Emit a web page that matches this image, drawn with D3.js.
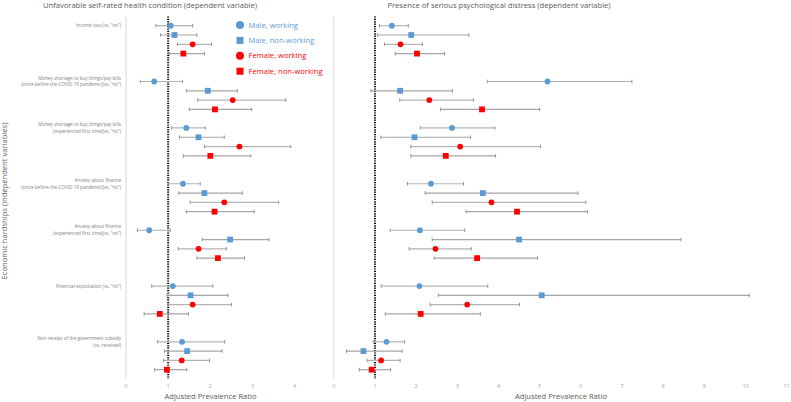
<!DOCTYPE html>
<html>
<head>
<script src="https://cdn.jsdelivr.net/npm/d3@7"></script>
<style>
  body { margin: 0; background: #fff; }
  text { font-family: "Open Sans", "Noto Sans", sans-serif; }
</style>
</head>
<body>
<div id="chart"></div>
<script>
// hardship categories, each has 4 rows (male working, male non-working, female working, female non-working)
var hardships = [
  ["Income loss (vs. \u201cno\u201d)"],
  ["Money shortage to buy things/pay bills", "(since before the COVID-19 pandemic)(vs. \u201cno\u201d)"],
  ["Money shortage to buy things/pay bills", "(experienced first time)(vs. \u201cno\u201d)"],
  ["Anxiety about finance", "(since before the COVID-19 pandemic)(vs. \u201cno\u201d)"],
  ["Anxiety about finance", "(experienced first time)(vs. \u201cno\u201d)"],
  ["Financial exploitation (vs. \u201cno\u201d)"],
  ["Non-receipt of the government subsidy", "(vs. received)"]
];
// first row slot of each category (blank slots between groups)
var groupSlot = [0, 6, 11, 17, 22, 28, 34];
var seriesNames = ["Male, working", "Male, non-working", "Female, working", "Female, non-working"];

// left panel: unfavorable self-rated health   [estimate, lower, upper]
var healthMW  = [[1.06,0.71,1.58],[0.67,0.34,1.34],[1.43,1.08,1.88],[1.35,1.01,1.76],[0.55,0.27,1.05],[1.11,0.61,2.06],[1.33,0.75,2.34]];
var healthMNW = [[1.15,0.82,1.68],[1.94,1.43,2.64],[1.72,1.27,2.33],[1.86,1.25,2.76],[2.47,1.81,3.39],[1.53,0.97,2.42],[1.45,0.91,2.28]];
var healthFW  = [[1.58,1.22,2.03],[2.53,1.70,3.79],[2.69,1.86,3.91],[2.33,1.52,3.62],[1.72,1.24,2.38],[1.58,1.00,2.50],[1.32,0.89,1.98]];
var healthFNW = [[1.36,1.03,1.86],[2.11,1.50,2.98],[2.00,1.36,2.96],[2.10,1.43,3.04],[2.18,1.68,2.81],[0.80,0.43,1.48],[0.97,0.68,1.44]];

// right panel: serious psychological distress
var distMW  = [[1.41,1.11,1.81],[5.19,3.73,7.24],[2.87,2.10,3.91],[2.36,1.79,3.15],[2.09,1.37,3.18],[2.08,1.15,3.74],[1.28,0.96,1.72]];
var distMNW = [[1.88,1.06,3.28],[1.61,0.90,2.88],[1.96,1.14,3.32],[3.62,2.22,5.93],[4.50,2.39,8.43],[5.05,2.54,10.09],[0.72,0.31,1.66]];
var distFW  = [[1.62,1.23,2.15],[2.32,1.60,3.39],[3.07,1.87,5.02],[3.83,2.39,6.12],[2.47,1.83,3.34],[3.24,2.34,4.51],[1.15,0.81,1.61]];
var distFNW = [[2.02,1.49,2.69],[3.60,2.59,5.00],[2.72,1.87,3.93],[4.45,3.21,6.16],[3.48,2.44,4.95],[2.11,1.25,3.56],[0.92,0.62,1.38]];

var leftTicks = [0, 1, 2, 3, 4];
var rightTicks = [0, 1, 2, 3, 4, 5, 6, 7, 8, 9, 10, 11];

var W = 791, H = 402;
var blue = "#5b9bd5", red = "#ff0000";
var colors = [blue, blue, red, red];
var shapes = ["circle", "square", "circle", "square"];

var svg = d3.select("#chart").append("svg")
  .attr("width", W).attr("height", H);

var y = d3.scaleLinear().domain([-1, 38]).range([16.4, 379]);
var xL = d3.scaleLinear().domain([0, 4.92]).range([126, 333.5]);
var xR = d3.scaleLinear().domain([0, 11]).range([333.8, 786.7]);

function rows(series) {
  var out = [];
  series.forEach(function(s, si) {
    s.forEach(function(d, gi) {
      out.push({ g: gi, s: si, est: d[0], lo: d[1], hi: d[2], slot: groupSlot[gi] + si });
    });
  });
  return out;
}

function panel(x, series, ticks, title) {
  var g = svg.append("g");
  // axis line at 0
  g.append("line")
    .attr("x1", x(0)).attr("x2", x(0))
    .attr("y1", y(-1)).attr("y2", y(38))
    .attr("stroke", "#d9d9d9").attr("stroke-width", 1);

  // tick labels
  g.selectAll("text.tick").data(ticks).enter().append("text")
    .attr("class", "tick")
    .attr("x", function(d) { return x(d); })
    .attr("y", 388)
    .attr("text-anchor", "middle")
    .attr("font-size", 5.5)
    .attr("fill", "#a6a6a6")
    .text(function(d) { return d; });

  // reference line at 1
  g.append("line")
    .attr("x1", x(1)).attr("x2", x(1))
    .attr("y1", y(-1)).attr("y2", y(38))
    .attr("stroke", "#000").attr("stroke-width", 2)
    .attr("stroke-dasharray", "1.2,1.2");

  var data = rows(series);
  var bars = g.selectAll("g.bar").data(data).enter().append("g").attr("class", "bar");
  bars.append("line")
    .attr("x1", function(d) { return x(d.lo); })
    .attr("x2", function(d) { return x(d.hi); })
    .attr("y1", function(d) { return y(d.slot); })
    .attr("y2", function(d) { return y(d.slot); })
    .attr("stroke", function(d) { return d.s % 2 ? "#a6a6a6" : "#b3b3b3"; })
    .attr("stroke-width", 1.2);
  ["lo", "hi"].forEach(function(k) {
    bars.append("line")
      .attr("x1", function(d) { return x(d[k]); })
      .attr("x2", function(d) { return x(d[k]); })
      .attr("y1", function(d) { return y(d.slot) - 1.8; })
      .attr("y2", function(d) { return y(d.slot) + 1.8; })
      .attr("stroke", "#7f7f7f").attr("stroke-width", 0.8);
  });
  bars.each(function(d) {
    var el = d3.select(this);
    if (shapes[d.s] === "circle") {
      el.append("circle")
        .attr("cx", x(d.est)).attr("cy", y(d.slot)).attr("r", 2.9)
        .attr("fill", colors[d.s]);
    } else {
      el.append("rect")
        .attr("x", x(d.est) - 2.9).attr("y", y(d.slot) - 2.9)
        .attr("width", 5.8).attr("height", 5.8)
        .attr("fill", colors[d.s]);
    }
  });

  // title and axis label
  g.append("text")
    .attr("x", title.x).attr("y", 8)
    .attr("text-anchor", "middle")
    .attr("font-size", 7.6)
    .attr("fill", "#595959")
    .text(title.text);
  g.append("text")
    .attr("x", title.axisX).attr("y", 399)
    .attr("text-anchor", "middle")
    .attr("font-size", 7.6)
    .attr("fill", "#595959")
    .text("Adjusted Prevalence Ratio");
}

panel(xL, [healthMW, healthMNW, healthFW, healthFNW], leftTicks,
  { text: "Unfavorable self-rated health condition (dependent variable)", x: 150, axisX: 210.5 });
panel(xR, [distMW, distMNW, distFW, distFNW], rightTicks,
  { text: "Presence of serious psychological distress (dependent variable)", x: 499, axisX: 561 });

// category labels
var cat = svg.append("g");
hardships.forEach(function(lines, i) {
  var cy = y(groupSlot[i]);
  var n = lines.length;
  lines.forEach(function(t, j) {
    cat.append("text")
      .attr("x", 121)
      .attr("y", cy + (j - (n - 1) / 2) * 6.8)
      .attr("dy", "0.35em")
      .attr("text-anchor", "end")
      .attr("font-size", 4.6)
      .attr("fill", "#808080")
      .text(t);
  });
});

// y axis title
svg.append("text")
  .attr("transform", "translate(7,201) rotate(-90)")
  .attr("text-anchor", "middle")
  .attr("font-size", 7.6)
  .attr("fill", "#595959")
  .text("Economic hardships (independent variables)");

// legend
var leg = svg.append("g");
seriesNames.forEach(function(name, i) {
  var ly = 25 + i * 15.4;
  if (shapes[i] === "circle") {
    leg.append("circle").attr("cx", 240).attr("cy", ly).attr("r", 4).attr("fill", colors[i]);
  } else {
    leg.append("rect").attr("x", 236.5).attr("y", ly - 3.5).attr("width", 7).attr("height", 7).attr("fill", colors[i]);
  }
  leg.append("text")
    .attr("x", 248.5).attr("y", ly).attr("dy", "0.35em")
    .attr("font-size", 7.6)
    .attr("fill", colors[i])
    .text(name);
});
</script>
</body>
</html>
